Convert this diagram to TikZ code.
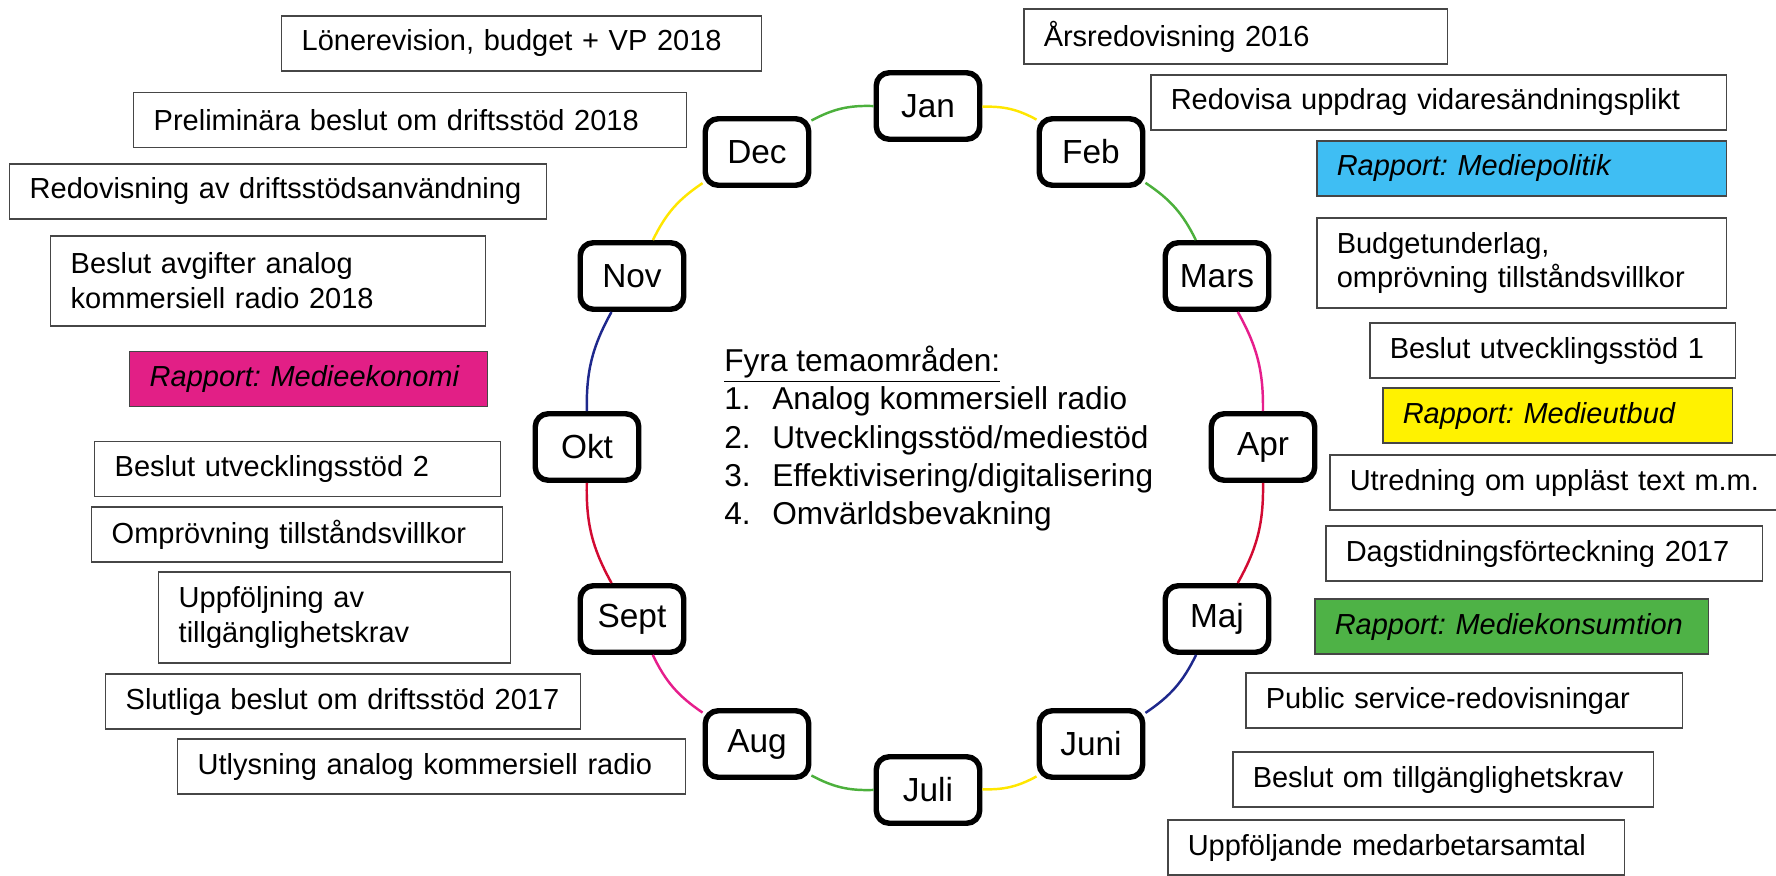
\documentclass[tikz,border=0pt]{standalone}
\usepackage{fontspec}
\setmainfont{Liberation Sans}
\usetikzlibrary{shapes}
\frenchspacing

\definecolor{boxgray}{RGB}{70,70,70}
\definecolor{ekofill}{RGB}{226,31,134}
\definecolor{polfill}{RGB}{63,190,243}
\definecolor{utbfill}{RGB}{255,242,0}
\definecolor{konsfill}{RGB}{78,178,70}
\definecolor{lyellow}{RGB}{255,230,0}
\definecolor{lgreen}{RGB}{76,176,60}
\definecolor{lpink}{RGB}{230,30,140}
\definecolor{lred}{RGB}{210,10,50}
\definecolor{lblue}{RGB}{30,40,140}

\begin{document}
\begin{tikzpicture}[x=0.02cm,y=-0.02cm,
month/.style={rectangle, draw=black, line width=3.1pt, rounded corners=0.26cm, minimum width=2.07cm, minimum height=1.33cm, inner sep=0pt, font=\fontsize{19}{23}\selectfont},
task/.style={rectangle, draw=boxgray, line width=0.85pt, anchor=west, align=left, text width=#1, inner xsep=0.4cm, inner ysep=0pt, minimum height=1.1cm, font=\fontsize{16.5}{19.8}\selectfont},
report/.style={task=#1, font=\fontsize{16.5}{19.8}\selectfont\itshape},
monthlink/.style={line width=1.4pt, bend left=15}]

\useasboundingbox (0,0) rectangle (1776,876);

% manader
\draw (928,106) node[month] (Jan) {Jan};
\draw (1091,152) node[month] (Feb) {Feb};
\draw (1217,276) node[month] (Mars) {Mars};
\draw (1263,447) node[month] (Apr) {Apr};
\draw (1217,619) node[month] (Maj) {Maj};
\draw (1091,744) node[month] (Juni) {Juni};
\draw (928,790) node[month] (Juli) {Juli};
\draw (757,744) node[month] (Aug) {Aug};
\draw (632,619) node[month] (Sept) {Sept};
\draw (587,447) node[month] (Okt) {Okt};
\draw (632,276) node[month] (Nov) {Nov};
\draw (757,152) node[month] (Dec) {Dec};

\draw (724,346) node[anchor=north west, inner sep=0pt, align=left, font=\fontsize{18}{21.7}\selectfont] (Tema) {\underline{Fyra temaområden:}\\ \makebox[0.96cm][l]{1.}Analog kommersiell radio\\ \makebox[0.96cm][l]{2.}Utvecklingsstöd/mediestöd\\ \makebox[0.96cm][l]{3.}Effektivisering/digitalisering\\ \makebox[0.96cm][l]{4.}Omvärldsbevakning};

% vänster sida
\draw (281,43.5) node[task=8.8cm] (Lon) {Lönerevision, budget + VP 2018};
\draw (133,120) node[task=10.26cm] (Prel) {Preliminära beslut om driftsstöd 2018};
\draw (9,191.5) node[task=9.94cm] (Redov) {Redovisning av driftsstödsanvändning};
\draw (50,281) node[task=7.9cm, minimum height=1.8cm] (Avg) {Beslut avgifter analog\\ kommersiell radio 2018};
\draw (129,379) node[report=6.36cm, fill=ekofill] (Eko) {Rapport: Medieekonomi};
\draw (94,469) node[task=7.32cm] (Utv2) {Beslut utvecklingsstöd 2};
\draw (91,534.5) node[task=7.42cm] (Ompr) {Omprövning tillståndsvillkor};
\draw (158,617.5) node[task=6.24cm, minimum height=1.82cm] (Uppf) {Uppföljning av\\ tillgänglighetskrav};
\draw (105,701.5) node[task=8.7cm] (Slut) {Slutliga beslut om driftsstöd 2017};
\draw (177,766.5) node[task=9.36cm] (Utlys) {Utlysning analog kommersiell radio};

% höger sida
\draw (1023,36.5) node[task=7.68cm] (Ars) {Årsredovisning 2016};
\draw (1150,102.5) node[task=10.72cm] (Vidare) {Redovisa uppdrag vidaresändningsplikt};
\draw (1316,168.5) node[report=7.4cm, fill=polfill] (Pol) {Rapport: Mediepolitik};
\draw (1316,263) node[task=7.4cm, minimum height=1.8cm] (Budget) {Budgetunderlag,\\ omprövning tillståndsvillkor};
\draw (1369,350.5) node[task=6.52cm] (Utv1) {Beslut utvecklingsstöd 1};
\draw (1382,415.5) node[report=6.2cm, fill=utbfill] (Utb) {Rapport: Medieutbud};
\draw (1329,482.5) node[task=8.42cm] (Utred) {Utredning om uppläst text m.m.};
\draw (1325,553.5) node[task=7.94cm] (Dag) {Dagstidningsförteckning 2017};
\draw (1314,626.5) node[report=7.08cm, fill=konsfill] (Kons) {Rapport: Mediekonsumtion};
\draw (1245,700.5) node[task=7.94cm] (Public) {Public service-redovisningar};
\draw (1232,779.5) node[task=7.62cm] (Tillg) {Beslut om tillgänglighetskrav};
\draw (1167,847.5) node[task=8.34cm] (Samtal) {Uppföljande medarbetarsamtal};

% cirkeln
\draw[monthlink, lyellow] (Jan) to (Feb);
\draw[monthlink, lgreen] (Feb) to (Mars);
\draw[monthlink, lpink] (Mars) to (Apr);
\draw[monthlink, lred] (Apr) to (Maj);
\draw[monthlink, lblue] (Maj) to (Juni);
\draw[monthlink, lyellow] (Juni) to (Juli);
\draw[monthlink, lgreen] (Juli) to (Aug);
\draw[monthlink, lpink] (Aug) to (Sept);
\draw[monthlink, lred] (Sept) to (Okt);
\draw[monthlink, lblue] (Okt) to (Nov);
\draw[monthlink, lyellow] (Nov) to (Dec);
\draw[monthlink, lgreen] (Dec) to (Jan);

\end{tikzpicture}
\end{document}
